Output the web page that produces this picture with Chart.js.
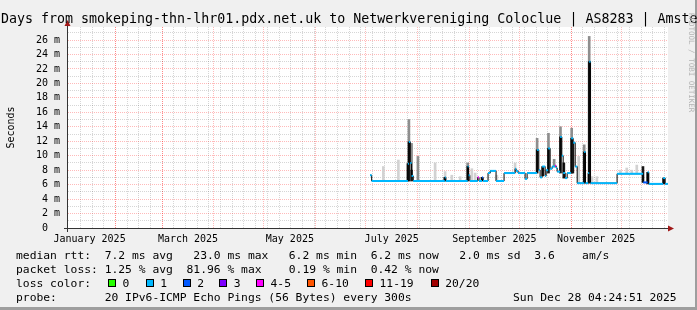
<!DOCTYPE html>
<html>
<head>
<meta charset="utf-8">
<script src="https://cdn.jsdelivr.net/npm/chart.js@4/dist/chart.umd.min.js"></script>
<style>
  html, body { margin: 0; padding: 0; }
  body { width: 697px; height: 310px; background: #f0f0f0; position: relative; overflow: hidden;
         font-family: 'DejaVu Sans Mono', monospace; color: #000; }
  #frame { position: absolute; left: 0; top: 0; width: 697px; height: 310px; box-sizing: border-box;
           border-right: 2px solid #9e9e9e; border-bottom: 3px solid #9e9e9e; }
  canvas { position: absolute; left: 0; top: 0; }
  .title { position: absolute; left: 1px; top: 11px; font-size: 13.3px; line-height: 16px; white-space: pre; }
  .credit { position: absolute; left: 687px; top: 13px; font-size: 7.5px; color: #b4b4b4;
            writing-mode: vertical-rl; white-space: pre; }
  .leg { position: absolute; left: 16px; font-size: 11.33px; line-height: 14px; white-space: pre; }
  .box { position: absolute; top: 278.5px; width: 8px; height: 8px; box-sizing: border-box; border: 1px solid #000; }
  .boxlab { position: absolute; top: 275.8px; font-size: 11.33px; line-height: 14px; white-space: pre; }
</style>
</head>
<body>
<div id="frame"></div>
<canvas id="chart" width="697" height="310"></canvas>
<div class="title">Days from smokeping-thn-lhr01.pdx.net.uk to Netwerkvereniging Coloclue | AS8283 | Amste</div>
<div class="credit">RRDTOOL / TOBI OETIKER</div>
<div class="leg" style="top:247.6px">median rtt:  7.2 ms avg   23.0 ms max   6.2 ms min  6.2 ms now   2.0 ms sd  3.6    am/s</div>
<div class="leg" style="top:261.6px">packet loss: 1.25 % avg  81.96 % max    0.19 % min  0.42 % now</div>
<div class="leg" style="top:275.8px">loss color:</div>
<div id="lossLegend"></div>
<div class="leg" style="top:289.9px">probe:       20 IPv6-ICMP Echo Pings (56 Bytes) every 300s</div>
<div class="leg" style="top:289.9px; left:513px">Sun Dec 28 04:24:51 2025</div>
<script>
// x values are days since 1 Jan 2025
const xMin = 2;
const xMax = 362;

// median rtt (ms), stepped: each value holds until the next day
const medianDays = [183.5, 184.5, 206.2, 206.8, 207.6, 208.4, 209.4, 228.3, 228.9, 242.0, 242.6, 243.3,
  248.0, 248.8, 250.6, 251.2, 254.2, 255.5, 259.0, 263.8, 270.4, 271.0, 272.2, 276.4, 277.6,
  283.6, 284.6, 285.4, 286.6, 288.4, 289.0, 290.2, 291.4, 292.6, 294.4, 295.0, 295.6, 297.4,
  298.4, 299.2, 300.4, 301.6, 304.0, 305.2, 306.4, 307.6, 311.8, 312.6, 314.2, 314.8, 315.6,
  331.5, 347.1, 349.8, 350.5, 359.1, 360.3, 361.9];
const medianMs = [7.3, 6.5, 8.9, 11.9, 9.0, 7.2, 6.5, 7.0, 6.5, 8.5, 7.3, 6.5,
  7.0, 6.5, 7.0, 6.5, 7.6, 7.9, 6.5, 7.6, 8.2, 7.9, 7.6, 6.8, 7.6,
  10.8, 8.0, 7.0, 8.5, 7.2, 8.0, 11.0, 8.2, 8.5, 8.6, 8.3, 7.8, 12.6,
  10.0, 7.6, 6.9, 7.6, 12.4, 11.8, 8.5, 6.2, 10.5, 6.2, 7.6, 23.0, 6.2,
  7.5, 6.3, 7.7, 6.1, 6.9, 6.1, 6.1];
const medianLoss = [1, 1, 1, 1, 1, 1, 1, 1, 1, 1, 1, 1,
  4, 1, 2, 1, 1, 1, 1, 1, 1, 1, 1, 1, 1,
  1, 1, 1, 1, 1, 1, 1, 1, 1, 4, 1, 1, 1,
  1, 1, 1, 1, 1, 1, 1, 1, 1, 1, 1, 1, 1,
  1, 2, 1, 1, 1, 1, 1];

// smoke (ping spread), light / mid / dark bands
const lightDays = [191.5, 200.5, 222.5, 228.5, 232.5, 237.5, 244.5, 246.5, 259.5, 270.4, 308.5, 316.5, 319.4, 333.5, 337.3, 340.3, 343.3];
const lightLow  = [6.5, 6.5, 6.5, 6.5, 6.5, 6.5, 6.5, 6.5, 6.5, 7.6, 6.2, 6.2, 6.2, 7.5, 7.5, 7.5, 7.5];
const lightHigh = [8.5, 9.4, 9.0, 7.8, 7.3, 7.1, 8.2, 7.6, 7.3, 9.0, 9.9, 7.1, 7.1, 8.0, 8.3, 8.0, 8.7];

const midDays = [206.8, 208.4, 212.2, 242.0, 283.6, 290.4, 293.8, 297.6, 304.3, 311.8, 314.8];
const midLow  = [11.9, 8.0, 6.5, 8.5, 10.8, 11.0, 8.5, 12.6, 12.4, 10.5, 23.0];
const midHigh = [15.0, 11.7, 9.9, 9.0, 12.4, 13.1, 9.5, 14.0, 13.8, 11.5, 26.5];

const darkDays = [206.2, 206.8, 208.4, 228.3, 242.0, 250.6, 283.6, 287.0, 290.4, 297.6, 299.6, 304.3, 305.0, 311.8, 314.8, 347.0, 349.8, 359.4];
const darkLow  = [6.5, 6.5, 6.5, 6.5, 6.5, 6.5, 7.6, 7.2, 7.6, 7.6, 6.9, 7.6, 7.6, 6.2, 6.2, 6.3, 6.1, 6.1];
const darkHigh = [8.9, 11.9, 8.0, 7.0, 8.5, 7.0, 10.8, 8.5, 11.0, 12.6, 9.0, 12.4, 11.8, 10.5, 23.0, 8.5, 7.7, 6.9];

// axes
const monthStartDays = [31, 59, 90, 120, 151, 181, 212, 243, 273, 304, 334];
const labelDays = [15.5, 74.5, 135.5, 196.5, 258, 319];
const labelNames = ['January 2025', 'March 2025', 'May 2025', 'July 2025', 'September 2025', 'November 2025'];
const yTickValues = [0, 1, 2, 3, 4, 5, 6, 7, 8, 9, 10, 11, 12, 13, 14, 15, 16, 17, 18, 19, 20, 21, 22, 23, 24, 25, 26, 27];

const lossColors = ['#26ff00', '#00b8ff', '#0059ff', '#7e00ff', '#ff00ff', '#ff5500', '#ff0000', '#a10000'];
const lossLabels = ['0', '1', '2', '3', '4-5', '6-10', '11-19', '20/20'];
const lossBoxX = [108, 145.7, 182.7, 219.3, 256, 307, 365, 430.7];

const gridDays = monthStartDays.slice();
for (let d = 10; d < xMax; d += 7) gridDays.push(d);

const MAJOR = 'rgba(255,0,0,0.27)';
const MINOR = 'rgba(0,0,0,0.16)';
const mono = 'DejaVu Sans Mono';

// loss colour legend
const lossLegend = document.getElementById('lossLegend');
lossLabels.forEach((lab, i) => {
  const b = document.createElement('div');
  b.className = 'box';
  b.style.left = lossBoxX[i] + 'px';
  b.style.background = lossColors[i];
  lossLegend.appendChild(b);
  const t = document.createElement('div');
  t.className = 'boxlab';
  t.style.left = (lossBoxX[i] + 14.5) + 'px';
  t.textContent = lab;
  lossLegend.appendChild(t);
});

const bars = (days, lo, hi) => days.map((d, i) => ({ x: d, y: [lo[i], hi[i]] }));
const stepLine = medianDays.map((d, i) => ({ x: d, y: medianMs[i] }));
const flatLine = [];
for (let i = 0; i < medianDays.length - 1; i++) {
  flatLine.push({ x: medianDays[i], y: medianMs[i] }, { x: medianDays[i + 1], y: medianMs[i] }, { x: medianDays[i + 1], y: null });
}

const canvasBg = {
  id: 'canvasBg',
  beforeDraw(chart) {
    const { ctx, chartArea: a } = chart;
    ctx.save();
    ctx.fillStyle = '#ffffff';
    ctx.fillRect(a.left, a.top, a.right - a.left, a.bottom - a.top);
    ctx.restore();
  }
};

const axisArrows = {
  id: 'axisArrows',
  afterDraw(chart) {
    const { ctx, chartArea: a } = chart;
    ctx.save();
    ctx.strokeStyle = '#333';
    ctx.lineWidth = 1;
    ctx.beginPath();
    ctx.moveTo(a.left + 0.5, a.bottom + 4);
    ctx.lineTo(a.left + 0.5, a.top - 2);
    ctx.moveTo(a.left - 3, a.bottom + 0.5);
    ctx.lineTo(a.right + 1, a.bottom + 0.5);
    ctx.stroke();
    ctx.fillStyle = '#a01818';
    ctx.beginPath();
    ctx.moveTo(a.left + 0.5, a.top - 7);
    ctx.lineTo(a.left - 2.5, a.top - 1);
    ctx.lineTo(a.left + 3.5, a.top - 1);
    ctx.fill();
    ctx.beginPath();
    ctx.moveTo(a.right + 6, a.bottom + 0.5);
    ctx.lineTo(a.right, a.bottom - 2.5);
    ctx.lineTo(a.right, a.bottom + 3.5);
    ctx.fill();
    ctx.restore();
  }
};

new Chart(document.getElementById('chart'), {
  type: 'bar',
  data: {
    datasets: [
      { type: 'bar', data: bars(lightDays, lightLow, lightHigh), backgroundColor: '#d2d2d2',
        barThickness: 2, grouped: false, order: 5, xAxisID: 'x', yAxisID: 'y' },
      { type: 'bar', data: bars(midDays, midLow, midHigh), backgroundColor: '#8e8e8e',
        barThickness: 2, grouped: false, order: 4, xAxisID: 'x', yAxisID: 'y' },
      { type: 'bar', data: bars(darkDays, darkLow, darkHigh), backgroundColor: '#161616',
        barThickness: 2, grouped: false, order: 3, xAxisID: 'x', yAxisID: 'y' },
      { type: 'line', data: stepLine, stepped: 'before', borderColor: '#000', borderWidth: 1,
        pointRadius: 0, order: 2, xAxisID: 'x', yAxisID: 'y' },
      { type: 'line', data: flatLine, borderColor: lossColors[1], borderWidth: 2, pointRadius: 0,
        spanGaps: false, order: 1, xAxisID: 'x', yAxisID: 'y',
        segment: { borderColor: c => lossColors[medianLoss[Math.floor(c.p0DataIndex / 3)]] } }
    ]
  },
  options: {
    responsive: false,
    devicePixelRatio: 1,
    animation: false,
    layout: { padding: { left: 0, right: 29, top: 27, bottom: 0 } },
    plugins: { legend: { display: false }, tooltip: { enabled: false } },
    scales: {
      x: {
        type: 'linear', axis: 'x', position: 'bottom', min: xMin, max: xMax, offset: false,
        afterBuildTicks: s => { s.ticks = gridDays.map(v => ({ value: v })); },
        afterFit: s => { s.height = 0; },
        grid: { offset: false, drawTicks: false, lineWidth: 1,
                color: c => (c.tick && monthStartDays.includes(c.tick.value)) ? MAJOR : MINOR },
        border: { display: true, color: '#333', dash: [1, 1], z: 1 },
        ticks: { display: false, autoSkip: false }
      },
      xl: {
        type: 'linear', axis: 'x', position: 'bottom', min: xMin, max: xMax, offset: false,
        afterBuildTicks: s => { s.ticks = labelDays.map(v => ({ value: v })); },
        afterFit: s => { s.height = 82; },
        grid: { display: false, offset: false },
        border: { display: false },
        ticks: { autoSkip: false, maxRotation: 0, minRotation: 0, padding: -3, color: '#000',
                 font: { family: mono, size: 10 },
                 callback: (v, i) => labelNames[i] }
      },
      y: {
        type: 'linear', position: 'left', min: 0, max: 27.8,
        afterBuildTicks: s => { s.ticks = yTickValues.map(v => ({ value: v })); },
        afterFit: s => { s.width = 67; },
        grid: { drawTicks: false, lineWidth: 1,
                color: c => (c.tick && c.tick.value % 2 === 0) ? MAJOR : MINOR },
        border: { display: true, color: '#333', dash: [1, 1], z: 1 },
        ticks: { autoSkip: false, padding: 7, color: '#000', font: { family: mono, size: 10 },
                 callback: v => v === 0 ? '0  ' : (v % 2 === 0 ? v + ' m' : '') },
        title: { display: true, text: 'Seconds', color: '#000', font: { family: mono, size: 10 },
                 padding: { top: 5, bottom: 0 } }
      }
    }
  },
  plugins: [canvasBg, axisArrows]
});
</script>
</body>
</html>
